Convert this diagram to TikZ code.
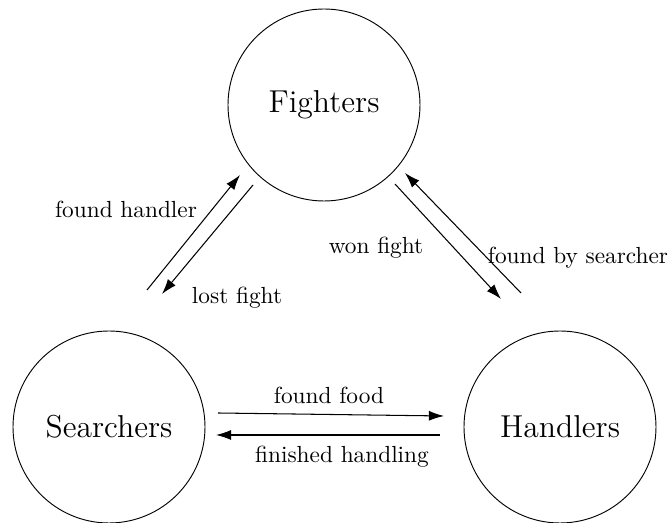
\documentclass[tikz,border=0pt]{standalone}
\usetikzlibrary{arrows.meta}

\tikzset{
  state/.style={draw, circle, minimum size=192*0.4292pt, inner sep=0pt, font=\fontsize{13.6}{16}\selectfont},
  flow/.style={-{Latex[length=6.5pt,width=4.3pt]}, line width=0.45pt},
  lbl/.style={font=\normalsize, inner sep=0pt}
}

\begin{document}
\begin{tikzpicture}[x=0.4292pt, y=-0.4292pt]
    \useasboundingbox (0,0) rectangle (671,523);

    % states
    \node[state] (fighters) at (324,105) {Fighters};
    \node[state] (searchers) at (109,427) {Searchers};
    \node[state] (handlers) at (560,427) {Handlers};

    % end points of the transitions
    \coordinate (sf1) at (147,290);
    \coordinate (sf2) at (240,175);
    \coordinate (fs1) at (253,185);
    \coordinate (fs2) at (162,294);
    \coordinate (fh1) at (395,184);
    \coordinate (fh2) at (501,299);
    \coordinate (hf1) at (521,293);
    \coordinate (hf2) at (405,173);
    \coordinate (sh1) at (218,413);
    \coordinate (sh2) at (444,416);
    \coordinate (hs1) at (440,435);
    \coordinate (hs2) at (216,435);

    % transitions
    \draw[flow] (sf1) -- (sf2);
    \draw[flow] (fs1) -- (fs2);
    \draw[flow] (fh1) -- (fh2);
    \draw[flow] (hf1) -- (hf2);
    \draw[flow] (sh1) -- (sh2);
    \draw[flow] (hs1) -- (hs2);

    % labels
    \node[lbl] (foundhandler) at (126,209) {found handler};
    \node[lbl] (lostfight) at (237,298) {lost fight};
    \node[lbl] (wonfight) at (376,248) {won fight};
    \node[lbl] (foundbysearcher) at (578,258) {found by searcher};
    \node[lbl] (foundfood) at (329,395) {found food};
    \node[lbl] (finished) at (342,457) {finished handling};
\end{tikzpicture}
\end{document}
